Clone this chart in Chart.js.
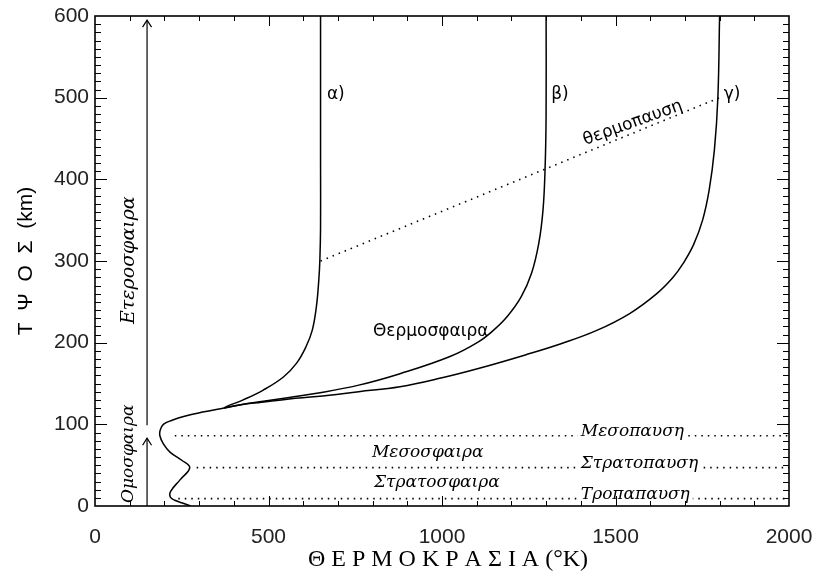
<!DOCTYPE html>
<html>
<head>
<meta charset="utf-8">
<script src="https://cdn.jsdelivr.net/npm/chart.js@4.4.1/dist/chart.umd.min.js"></script>
<style>
  html, body { margin: 0; padding: 0; background: #fff; }
  #wrap { width: 820px; height: 572px; }
</style>
</head>
<body>
<div id="wrap"><canvas id="myChart" width="820" height="572"></canvas></div>
<script>
// common profile up to ~120 km (height in km, temperature in K)
const lowerHeights = [0, 3, 7, 11, 18, 32, 47, 56, 66, 76, 86, 93, 100, 105, 110, 115, 120];
const lowerTemps   = [276, 256, 230, 217, 218, 245, 273, 250, 216, 197, 187, 188, 197, 222, 258, 310, 372];

// thermosphere branches for the three solar activity cases
const alphaHeights = [120, 122, 130, 142, 158, 175, 195, 215, 244, 277, 301, 340, 420, 600];
const alphaTemps   = [372, 380, 427, 485, 543, 581, 608, 626, 638, 645, 648, 650, 650, 650];

const betaHeights = [120, 124, 128, 133, 138, 148, 162, 183, 201, 215, 232, 256, 285, 322, 362, 412, 480, 600];
const betaTemps   = [372, 420, 480, 560, 639, 760, 879, 1023, 1105, 1148, 1188, 1228, 1258, 1279, 1291, 1297, 1300, 1300];

const gammaHeights = [120, 124, 127, 131, 134, 140, 146, 157, 169, 185, 199, 215, 236, 260, 280, 297, 320, 350, 387, 436, 500, 600];
const gammaTemps   = [372, 420, 480, 560, 639, 760, 879, 1000, 1110, 1240, 1345, 1446, 1542, 1619, 1666, 1695, 1725, 1751, 1770, 1785, 1795, 1800];

// thermopause: where each branch turns isothermal
const thermopauseTemps   = [650, 1800];
const thermopauseHeights = [300, 500];

// pauses of the lower atmosphere
const pauseNames   = ['Τροπαπαυση', 'Στρατοπαυση', 'Μεσοπαυση'];
const pauseHeights = [9, 47, 86];
const pauseStarts  = [240, 293, 230];

// homosphere / heterosphere arrows at T = 150 K
const arrowTemp = 150;
const homoSpan   = [0, 83];
const heteroSpan = [99, 595];

function toPoints(temps, heights) {
  return temps.map((t, i) => ({ x: t, y: heights[i] }));
}

const solid = { borderColor: '#000', borderWidth: 1.5, pointRadius: 0, showLine: true, tension: 0.4, fill: false };
const dotted = { borderColor: '#000', borderWidth: 1.6, pointRadius: 0, showLine: true, borderDash: [1.5, 5], fill: false };
const plain = { borderColor: '#000', borderWidth: 1.2, pointRadius: 0, showLine: true, fill: false };

const datasets = [
  { ...solid, label: 'lower', data: toPoints(lowerTemps, lowerHeights) },
  { ...solid, label: 'α', data: toPoints(alphaTemps, alphaHeights) },
  { ...solid, label: 'β', data: toPoints(betaTemps, betaHeights) },
  { ...solid, label: 'γ', data: toPoints(gammaTemps, gammaHeights) },
  { ...dotted, label: 'thermopause', data: toPoints(thermopauseTemps, thermopauseHeights) },
  { ...plain, label: 'homo', data: homoSpan.map(h => ({ x: arrowTemp, y: h })) },
  { ...plain, label: 'hetero', data: heteroSpan.map(h => ({ x: arrowTemp, y: h })) }
];
pauseNames.forEach((name, i) => {
  datasets.push({ ...dotted, label: name, data: [{ x: pauseStarts[i], y: pauseHeights[i] }, { x: 2000, y: pauseHeights[i] }] });
});

// text placed in data coordinates
const serif = 'italic 17px "DejaVu Serif"';
const sans = '17px "DejaVu Sans"';
const notes = [
  { text: 'α)', x: 694, y: 504, font: sans, align: 'center' },
  { text: 'β)', x: 1340, y: 504, font: sans, align: 'center' },
  { text: 'γ)', x: 1836, y: 504, font: sans, align: 'center' },
  { text: 'θερμοπαυση', x: 1550, y: 469, font: sans, align: 'center', angle: -20 },
  { text: 'Θερμοσφαιρα', x: 801, y: 214, font: sans, align: 'left' },
  { text: 'Μεσοσφαιρα', x: 798, y: 66, font: serif, align: 'left' },
  { text: 'Στρατοσφαιρα', x: 804, y: 29, font: serif, align: 'left' },
  { text: 'Ετεροσφαιρα', x: 98, y: 301, font: 'italic 19px "DejaVu Serif"', align: 'center', angle: -90 },
  { text: 'Ομοσφαιρα', x: 98, y: 64, font: serif, align: 'center', angle: -90 }
];
pauseNames.forEach((name, i) => {
  notes.push({ text: name, x: 1400, y: pauseHeights[i], font: serif, align: 'left', baseline: 'alphabetic', knockout: true });
});

const annotate = {
  id: 'annotate',
  afterDatasetsDraw(chart) {
    const { ctx, scales: { x, y } } = chart;
    ctx.save();
    ctx.fillStyle = '#000';
    notes.forEach(n => {
      const px = x.getPixelForValue(n.x);
      const py = y.getPixelForValue(n.y);
      ctx.save();
      ctx.translate(px, py);
      if (n.angle) ctx.rotate(n.angle * Math.PI / 180);
      ctx.font = n.font;
      ctx.textAlign = n.align;
      ctx.textBaseline = n.baseline || 'middle';
      if (n.knockout) {
        const w = ctx.measureText(n.text).width;
        ctx.fillStyle = '#fff';
        ctx.fillRect(-3, -14, w + 6, 19);
        ctx.fillStyle = '#000';
      }
      ctx.fillText(n.text, 0, 0);
      ctx.restore();
    });

    // arrow heads
    ctx.strokeStyle = '#000';
    ctx.lineWidth = 1.2;
    [homoSpan[1], heteroSpan[1]].forEach(h => {
      const px = x.getPixelForValue(arrowTemp);
      const py = y.getPixelForValue(h);
      ctx.beginPath();
      ctx.moveTo(px - 4.5, py + 7);
      ctx.lineTo(px, py);
      ctx.lineTo(px + 4.5, py + 7);
      ctx.stroke();
    });
    ctx.restore();
  }
};

// box frame with inward ticks on all four sides
const frameTicks = {
  id: 'frameTicks',
  afterDraw(chart) {
    const { ctx, chartArea: a, scales: { x, y } } = chart;
    ctx.save();
    ctx.strokeStyle = '#000';
    const seg = (x1, y1, x2, y2) => { ctx.beginPath(); ctx.moveTo(x1, y1); ctx.lineTo(x2, y2); ctx.stroke(); };
    ctx.lineWidth = 1;
    for (let v = 100; v < 2000; v += 100) {
      const px = Math.round(x.getPixelForValue(v)) + 0.5;
      const len = v % 500 === 0 ? 10 : 5;
      seg(px, a.bottom, px, a.bottom - len);
      seg(px, a.top, px, a.top + len);
    }
    for (let v = 10; v < 600; v += 10) {
      const py = Math.round(y.getPixelForValue(v)) + 0.5;
      const len = v % 100 === 0 ? 12 : 6;
      seg(a.left, py, a.left + len, py);
      seg(a.right, py, a.right - len, py);
    }
    ctx.lineWidth = 1.6;
    ctx.strokeRect(a.left, a.top, a.right - a.left, a.bottom - a.top);
    ctx.restore();
  }
};

const config = {
  type: 'scatter',
  data: { datasets },
  options: {
    responsive: false,
    animation: false,
    layout: { padding: { top: 16, right: 31, left: 0, bottom: 0 } },
    plugins: { legend: { display: false }, tooltip: { enabled: false } },
    scales: {
      x: {
        type: 'linear', min: 0, max: 2000,
        afterFit(s) { s.height = 66; s.paddingLeft = 0; s.paddingRight = 0; },
        grid: { display: false, drawTicks: false },
        border: { display: false },
        ticks: { stepSize: 500, padding: 19, maxRotation: 0, color: '#222', font: { family: 'Liberation Sans', size: 21 }, callback: v => String(v) },
        title: { display: true, text: '  Θ Ε Ρ Μ Ο Κ Ρ Α Σ Ι Α (°K)', color: '#000', padding: 0, font: { family: 'Liberation Serif', size: 24, lineHeight: 1 } }
      },
      y: {
        type: 'linear', min: 0, max: 600,
        afterFit(s) { s.width = 95; s.paddingTop = 0; s.paddingBottom = 0; },
        grid: { display: false, drawTicks: false },
        border: { display: false },
        ticks: { stepSize: 100, padding: 6, color: '#222', font: { family: 'Liberation Sans', size: 21 } },
        title: { display: true, text: 'Τ  Ψ  Ο  Σ  (km)', color: '#000', padding: { top: 14, bottom: 0 }, font: { family: 'Liberation Sans', size: 21, lineHeight: 1.2 } }
      }
    }
  },
  plugins: [annotate, frameTicks]
};

var myChart = new Chart(document.getElementById('myChart'), config);
</script>
</body>
</html>
